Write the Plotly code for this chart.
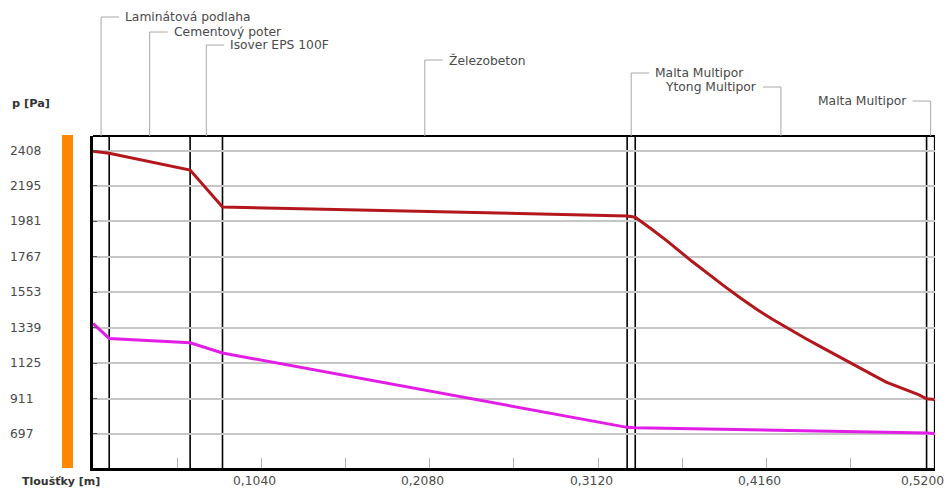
import plotly.graph_objects as go

# ---- data ----
layer_names = ["Laminátová podlaha", "Cementový poter", "Isover EPS 100F", "Železobeton",
               "Malta Multipor", "Ytong Multipor", "Malta Multipor"]
layer_thickness = [0.010, 0.050, 0.020, 0.250, 0.005, 0.180, 0.005]

# saturated vapour pressure (red)
psat_x = [0.000, 0.010, 0.060, 0.080, 0.330, 0.335, 0.345, 0.355, 0.370, 0.380, 0.390, 0.400,
          0.410, 0.420, 0.430, 0.440, 0.450, 0.460, 0.470, 0.480, 0.490, 0.500, 0.510,
          0.515, 0.520]
psat_y = [2405, 2392, 2291, 2068, 2014, 2006, 1935, 1860, 1740, 1663, 1590, 1518,
          1450, 1388, 1330, 1275, 1222, 1168, 1115, 1062, 1010, 972, 935,
          910, 905]

# partial vapour pressure (magenta)
p_x = [0.000, 0.010, 0.060, 0.080, 0.330, 0.335, 0.515, 0.520]
p_y = [1365, 1274, 1248, 1186, 737, 735, 703, 700]

y_tick_vals = [2408, 2195, 1981, 1767, 1553, 1339, 1125, 911, 697]
y_tick_text = ["2408", "2195", "1981", "1767", "1553", "1339", "1125", "911", "697"]
x_tick_vals = [0.052, 0.104, 0.156, 0.208, 0.260, 0.312, 0.364, 0.416, 0.468, 0.520]
x_label_vals = [0.104, 0.208, 0.312, 0.416, 0.520]
x_label_text = ["0,1040", "0,2080", "0,3120", "0,4160", "0,5200"]

# label heights (px from top of picture) and side for each layer label
label_top_px = [17, 32, 45, 60, 73, 87, 101]
label_side = ["right", "right", "right", "right", "right", "left", "left"]

W, H = 948, 489
L, R, T, B = 93, 13, 136, 21
PW, PH = W - L - R, H - T - B
FONT = "DejaVu Sans, Liberation Sans, Arial, sans-serif"
FS = 12.3

fig = go.Figure()
fig.add_trace(go.Scatter(x=psat_x, y=psat_y, mode="lines",
                         line=dict(color="#b3171c", width=3), showlegend=False))
fig.add_trace(go.Scatter(x=p_x, y=p_y, mode="lines",
                         line=dict(color="#e21de6", width=3), showlegend=False))

shapes = []
annotations = []

# layer boundaries
bounds = [0.0]
for t in layer_thickness:
    bounds.append(round(bounds[-1] + t, 6))
for b in bounds[1:]:
    shapes.append(dict(type="line", xref="x", yref="paper", x0=b, x1=b, y0=0, y1=1,
                       line=dict(color="black", width=1.6), layer="between"))
# top border
shapes.append(dict(type="line", xref="paper", yref="paper", x0=0, x1=1, y0=1, y1=1,
                   line=dict(color="black", width=2)))
# orange bar at left
shapes.append(dict(type="rect", xref="paper", yref="paper",
                   x0=(62 - L) / PW, x1=(73 - L) / PW, y0=0, y1=1.003,
                   fillcolor="#ff8800", line=dict(width=0)))

# layer labels with leader lines
for i, name in enumerate(layer_names):
    mid = (bounds[i] + bounds[i + 1]) / 2
    ytop = 1 + (T - label_top_px[i]) / PH
    shapes.append(dict(type="line", xref="x", yref="paper", x0=mid, x1=mid, y0=1, y1=ytop,
                       line=dict(color="#a8a8a8", width=1)))
    sgn = 1 if label_side[i] == "right" else -1
    shapes.append(dict(type="line", xref="x", yref="paper", xsizemode="pixel", xanchor=mid,
                       x0=0, x1=sgn * 18, y0=ytop, y1=ytop,
                       line=dict(color="#a8a8a8", width=1)))
    annotations.append(dict(x=mid, y=ytop, xref="x", yref="paper", text=name,
                            showarrow=False, xanchor="left" if sgn > 0 else "right",
                            yanchor="middle", xshift=sgn * 23, borderpad=0,
                            font=dict(family=FONT, size=FS, color="#4a4a4a")))

# y tick labels (left aligned)
for v, t in zip(y_tick_vals, y_tick_text):
    annotations.append(dict(x=(9 - L) / PW, y=v, xref="paper", yref="y", text=t,
                            showarrow=False, xanchor="left", yanchor="middle", borderpad=0,
                            font=dict(family=FONT, size=FS, color="#4a4a4a")))

# x tick labels
y_lab = -(481 - T - PH) / PH
for i, (v, t) in enumerate(zip(x_label_vals, x_label_text)):
    annotations.append(dict(x=v, y=y_lab, xref="x", yref="paper", text=t,
                            showarrow=False, xanchor="center", yanchor="middle", borderpad=0,
                            xshift=-12 if i == len(x_label_vals) - 1 else -7,
                            font=dict(family=FONT, size=FS, color="#4a4a4a")))

# axis titles
annotations.append(dict(x=(11 - L) / PW, y=1 + (T - 103) / PH, xref="paper", yref="paper",
                        text="<b>p [Pa]</b>", showarrow=False, xanchor="left", yanchor="middle",
                        borderpad=0, font=dict(family=FONT, size=11.3, color="#333333")))
annotations.append(dict(x=(21 - L) / PW, y=y_lab, xref="paper", yref="paper",
                        text="<b>Tloušťky [m]</b>", showarrow=False, xanchor="left",
                        yanchor="middle", borderpad=0,
                        font=dict(family=FONT, size=11, color="#333333")))

fig.update_layout(
    width=W, height=H,
    margin=dict(l=L, r=R, t=T, b=B, pad=0),
    paper_bgcolor="white", plot_bgcolor="white",
    shapes=shapes, annotations=annotations,
    showlegend=False,
    xaxis=dict(range=[0, 0.5202], tickvals=x_tick_vals, showticklabels=False,
               showgrid=False, zeroline=False, showline=True, linecolor="black",
               linewidth=3, ticks="inside", ticklen=10, tickcolor="#b0b0b0", tickwidth=1,
               automargin=False, fixedrange=True),
    yaxis=dict(range=[491.6, 2496.8], tickvals=y_tick_vals, showticklabels=False,
               showgrid=True, gridcolor="#c6c6c6", gridwidth=1.5, zeroline=False,
               showline=True, linecolor="black", linewidth=3,
               ticks="inside", ticklen=4, tickcolor="#555555",
               automargin=False, fixedrange=True),
)

fig.write_html("out.html", config={"displayModeBar": False},
               post_script="document.body.style.margin='0';document.body.style.overflow='hidden';")
